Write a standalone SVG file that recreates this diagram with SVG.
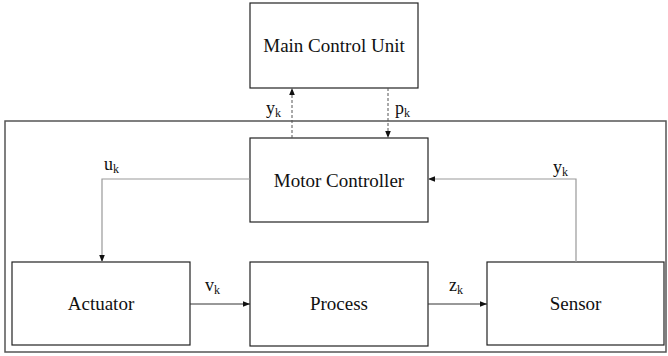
<svg xmlns="http://www.w3.org/2000/svg" width="668" height="356" viewBox="0 0 668 356" font-family="Times New Roman, Liberation Serif, serif">
  <defs>
    <marker id="arrow" viewBox="0 0 10 10" refX="10" refY="5" markerWidth="7" markerHeight="7" orient="auto" markerUnits="userSpaceOnUse">
      <path d="M0,1 L10,5 L0,9 z" fill="#111"/>
    </marker>
  </defs>

  <!-- outer system boundary -->
  <rect x="5" y="121" width="661" height="231" fill="none" stroke="#555" stroke-width="1.5"/>

  <!-- blocks -->
  <g id="main-control-unit" font-family="Times New Roman, Liberation Serif, serif">
    <rect x="250" y="3" width="168" height="85" fill="#fff" stroke="#222" stroke-width="1.2"/>
    <text x="334" y="52" font-size="19" fill="#111" text-anchor="middle">Main Control Unit</text>
  </g>
  <g id="motor-controller" font-family="Times New Roman, Liberation Serif, serif">
    <rect x="250" y="138" width="178" height="84" fill="#fff" stroke="#222" stroke-width="1.2"/>
    <text x="339" y="187" font-size="19" fill="#111" text-anchor="middle">Motor Controller</text>
  </g>
  <g id="actuator" font-family="Times New Roman, Liberation Serif, serif">
    <rect x="12" y="262" width="178" height="83" fill="#fff" stroke="#222" stroke-width="1.2"/>
    <text x="101" y="310" font-size="19" fill="#111" text-anchor="middle">Actuator</text>
  </g>
  <g id="process" font-family="Times New Roman, Liberation Serif, serif">
    <rect x="250" y="262" width="178" height="84" fill="#fff" stroke="#222" stroke-width="1.2"/>
    <text x="339" y="310" font-size="19" fill="#111" text-anchor="middle">Process</text>
  </g>
  <g id="sensor" font-family="Times New Roman, Liberation Serif, serif">
    <rect x="487" y="262" width="177" height="83" fill="#fff" stroke="#222" stroke-width="1.2"/>
    <text x="575.5" y="310" font-size="19" fill="#111" text-anchor="middle">Sensor</text>
  </g>

  <g id="connectors" fill="none">
    <path d="M292,138 V88" stroke="#555" stroke-width="1" stroke-dasharray="3 2" marker-end="url(#arrow)"/>
    <path d="M388,88 V138" stroke="#555" stroke-width="1" stroke-dasharray="3 2" marker-end="url(#arrow)"/>
    <path d="M250,179 H102 V262" stroke="#999" stroke-width="1.2" marker-end="url(#arrow)"/>
    <path d="M576,262 V179 H428" stroke="#999" stroke-width="1.2" marker-end="url(#arrow)"/>
    <path d="M190,304 H250" stroke="#333" stroke-width="1" marker-end="url(#arrow)"/>
    <path d="M428,304 H487" stroke="#333" stroke-width="1" marker-end="url(#arrow)"/>

    <g font-size="18" fill="#111">
      <text x="266" y="114">y<tspan font-size="12" dy="3">k</tspan></text>
      <text x="395" y="114">p<tspan font-size="12" dy="3">k</tspan></text>
      <text x="104" y="170">u<tspan font-size="12" dy="3">k</tspan></text>
      <text x="553" y="173">y<tspan font-size="12" dy="3">k</tspan></text>
      <text x="205" y="291">v<tspan font-size="12" dy="3">k</tspan></text>
      <text x="449" y="291">z<tspan font-size="12" dy="3">k</tspan></text>
    </g>
  </g>
</svg>
